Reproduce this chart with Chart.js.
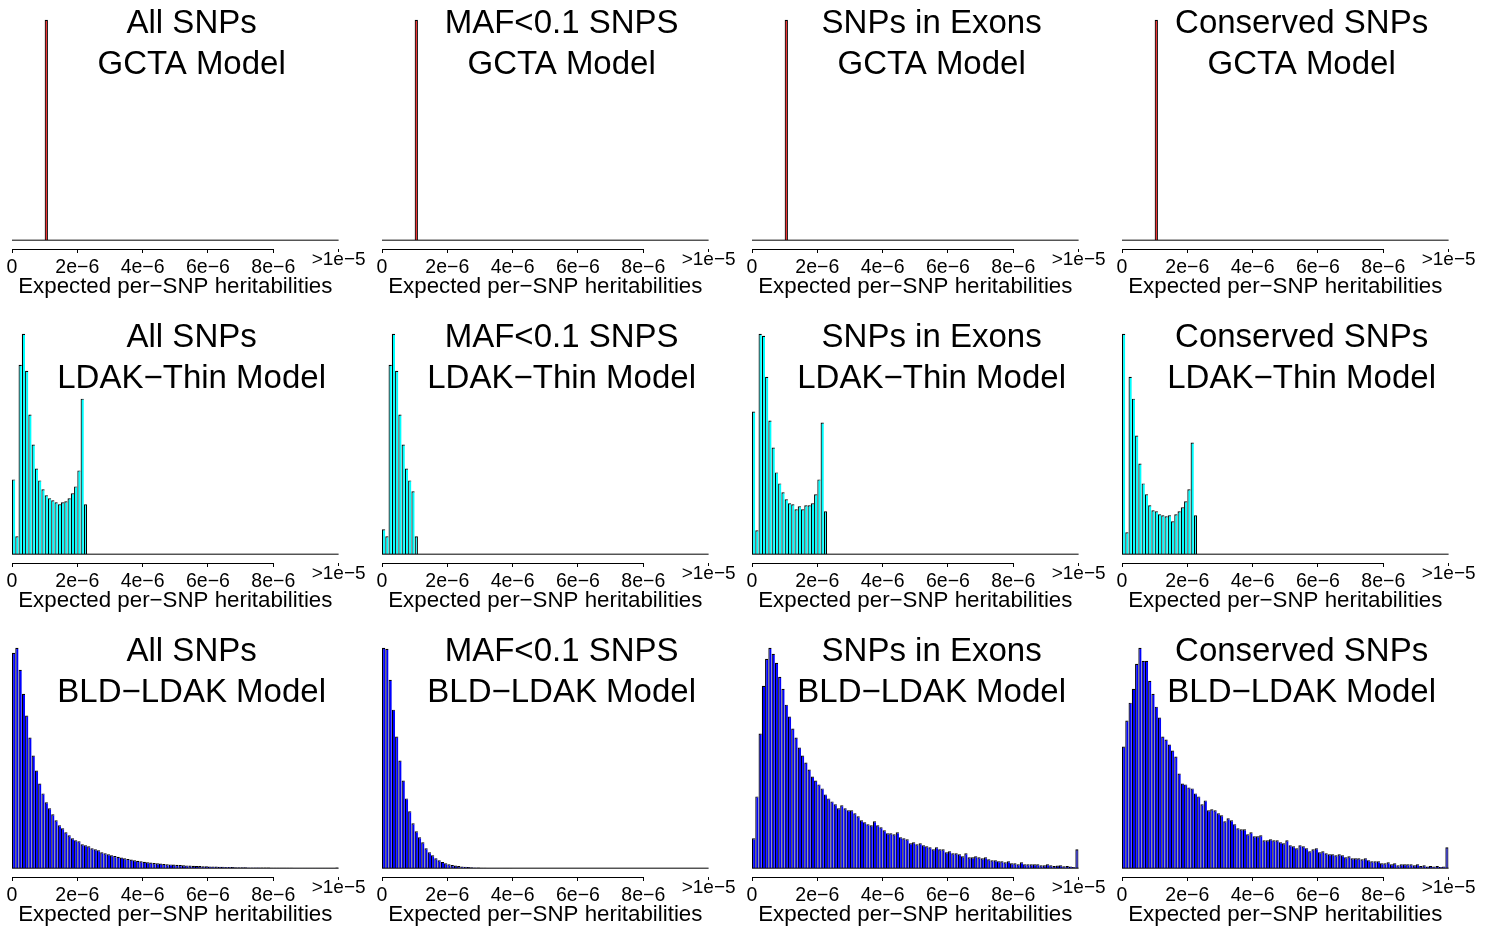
<!DOCTYPE html>
<html>
<head>
<meta charset="utf-8">
<script src="https://cdn.jsdelivr.net/npm/chart.js@4.4.1/dist/chart.umd.min.js"></script>
<style>
html,body{margin:0;padding:0;background:#fff;overflow:hidden;}
#grid{position:relative;width:1495px;height:933px;}
#grid canvas{position:absolute;}
</style>
</head>
<body>
<div id="grid"></div>
<script>
// histogram bins are 1e-7 wide, 0 .. 1e-5 (last bin holds everything >1e-5)
let binWidth = 1e-7;
let xMax = 1e-5;
let colTitles = ['All SNPs','MAF<0.1 SNPS','SNPs in Exons','Conserved SNPs'];
let rowModels = ['GCTA Model','LDAK\u2212Thin Model','BLD\u2212LDAK Model'];
let rowColors = ['#ff0000','#00ffff','#0000ff'];
let tickValues = [0,2e-6,4e-6,6e-6,8e-6];
let tickLabels = ['0','2e\u22126','4e\u22126','6e\u22126','8e\u22126'];
let overflowLabel = '>1e\u22125';
let axisTitle = 'Expected per\u2212SNP heritabilities';

// bin counts (relative); bins after the last value are empty
let gcta = [0,0,0,0,0,0,0,0,0,0,220];

let thinAll  = [75,18,190,221,184,140,110,86,74,65,59,56,54,52,50,52,53,56,61,68,84,156,50];
let thinMaf  = [25,18,190,221,184,140,110,86,74,63,18];
let thinExon = [143,24,221,219,178,134,107,82,71,62,55,51,50,45,48,45,49,49,51,60,75,132,43];
let thinCons = [221,22,178,156,119,91,71,60,49,44,43,40,39,38,39,33,40,43,47,53,65,112,39];

let bldAll = [216,221,199,175,153,131,113,98,85,75, 66,60,54,48,43,40,36,33,30,28,
  27,24,23,22,20,19,18,16,15,14, 13,12.2,11.4,10.7,10,9.3,8.6,8,7.4,6.9,
  6.4,6,5.6,5.2,4.9,4.6,4.3,4,3.8,3.6, 3.4,3.2,3,2.8,2.6,2.4,2.2,2.1,2,1.9,
  1.8,1.7,1.6,1.5,1.4,1.3,1.2,1.1,1,1, 0.9,0.9,0.8,0.8,0.7,0.7,0.6,0.6,0.6,0.5,
  0.5,0.5,0.4,0.4,0.4,0.4,0.3,0.3,0.3,0.3, 0.3,0.3,0.2,0.2,0.2,0.2,0.2,0.2,0.2,0.6];
let bldMaf = [221,220,189,159,132,108,88,70,57,45, 37,31,26,20,16,13,10,8,6.3,5,
  4,3.2,2.6,2.1,1.7,1.4,1.1,0.9,0.7,0.6, 0.5,0.4,0.3,0.3,0.2,0.2,0.2,0.1,0.1,0.1];
let bldExon = [30,72,135,183,210,221,215,206,192,180, 164,152,140,131,121,113,106,99,92,88,
  84,80,74,70,67,64,60,63,60,58, 58,55,52,48,46,44,43,47,43,41,
  38,35,35,34,36,31,30,29,25,26, 24,25,23,22,21,19,21,19,19,16,
  17,15,15,14,12,15,11,11,12,11, 10,11,9,8,8,7,7,6,7,5,
  5,4,6,4,4,4,4,4,3,3, 4,3,2.3,2.7,3,2,2.3,1.7,1.3,19];
let bldCons = [122,148,166,180,205,221,208,208,188,175, 162,151,132,129,124,118,112,95,85,84,
  81,80,75,72,64,68,58,59,58,55, 53,47,50,48,44,40,39,39,34,36,
  32,32,33,28,28,29,28,28,26,25, 28,23,22,20,23,22,20,17,19,20,
  16,17,15,14,14,13,14,13,11,12, 10,10,10,9,10,8,7,7,7,5,
  5,6,4,5,3,4,4,4,4,3, 4,2.3,3,1.7,2.3,1.7,2.3,1.3,1.7,21];

let panels = [
  [gcta, gcta, gcta, gcta],
  [thinAll, thinMaf, thinExon, thinCons],
  [bldAll, bldMaf, bldExon, bldCons]
];

let font = '"Liberation Sans", Arial, Helvetica, sans-serif';

// R-style extras: flat line for empty bins, short axis line, title inside the plot
let rStyle = {
  id: 'rStyle',
  afterDatasetsDraw(chart, args, opts){
    let {ctx, chartArea, scales:{x, y}} = chart;
    ctx.save();
    ctx.strokeStyle = '#000'; ctx.lineWidth = 1;
    let y0 = y.getPixelForValue(0);
    ctx.beginPath(); ctx.moveTo(x.getPixelForValue(0), y0); ctx.lineTo(x.getPixelForValue(xMax), y0); ctx.stroke();
    let yb = Math.round(chartArea.bottom)+0.5;
    ctx.beginPath(); ctx.moveTo(x.getPixelForValue(tickValues[0]), yb); ctx.lineTo(x.getPixelForValue(tickValues[tickValues.length-1]), yb); ctx.stroke();
    ctx.fillStyle = '#000';
    ctx.font = '33px ' + font;
    ctx.textAlign = 'center'; ctx.textBaseline = 'alphabetic';
    let cx = chartArea.left + (chartArea.right-chartArea.left)*0.55;
    opts.lines.forEach((t,i)=>ctx.fillText(t, cx, chartArea.top + 22 + i*41));
    ctx.restore();
  }
};

function edge(ctx){
  let d = ctx.dataset.data;
  let next = d[ctx.dataIndex+1];
  return {top:1.2, left:1.2, bottom:0, right: (!next || !next.y) ? 1.2 : 0};
}

let grid = document.getElementById('grid');
panels.forEach((row, r)=>{
  row.forEach((counts, c)=>{
    let cv = document.createElement('canvas');
    cv.width = 370; cv.height = 305;
    cv.style.left = (c*370)+'px'; cv.style.top = (r*314)+'px';
    grid.appendChild(cv);
    let M = Math.max(...counts);
    let yMin = -0.04*M;
    new Chart(cv, {
      type:'bar',
      data:{ datasets:[{
        data: counts.map((v,i)=>({x:(i+0.5)*binWidth, y:v})),
        backgroundColor: rowColors[r], borderColor:'#000', borderWidth: edge,
        borderSkipped:'start', inflateAmount:0, barPercentage:1, categoryPercentage:1
      }]},
      options:{
        responsive:false, animation:false, events:[], devicePixelRatio:1,
        layout:{padding:{left:12, right:31.4, top:11, bottom:0}},
        plugins:{ legend:{display:false}, tooltip:{enabled:false}, rStyle:{lines:[colTitles[c], rowModels[r]]} },
        scales:{
          x:{ type:'linear', min:0, max:xMax, position:'bottom', offset:false,
            border:{display:false},
            grid:{offset:false, drawOnChartArea:false, drawTicks:true, tickLength:4, color:'#000'},
            afterBuildTicks: s => { s.ticks = tickValues.map(v=>({value:v})); },
            afterFit: s => { s.height = 56; },
            ticks:{ autoSkip:false, maxRotation:0, padding:2.8, color:'#000', font:{family:font, size:19.5},
              callback:(v,i)=>tickLabels[i] },
            title:{ display:true, text:axisTitle, color:'#000', font:{family:font, size:22.3}, padding:{top:0, bottom:4.5} }
          },
          // the >1e-5 label sits a bit higher than the others, on its own axis
          x2:{ type:'linear', min:0, max:xMax, position:{y:yMin}, offset:false,
            border:{display:false},
            grid:{offset:false, drawOnChartArea:false, drawTicks:true, tickLength:3, color:'#000'},
            afterBuildTicks: s => { s.ticks = [{value:xMax}]; },
            ticks:{ autoSkip:false, maxRotation:0, padding:-3.7, color:'#000', font:{family:font, size:19},
              callback:()=>overflowLabel }
          },
          y:{ display:false, min:yMin, max:1.04*M }
        }
      },
      plugins:[rStyle]
    });
  });
});
</script>
</body>
</html>
